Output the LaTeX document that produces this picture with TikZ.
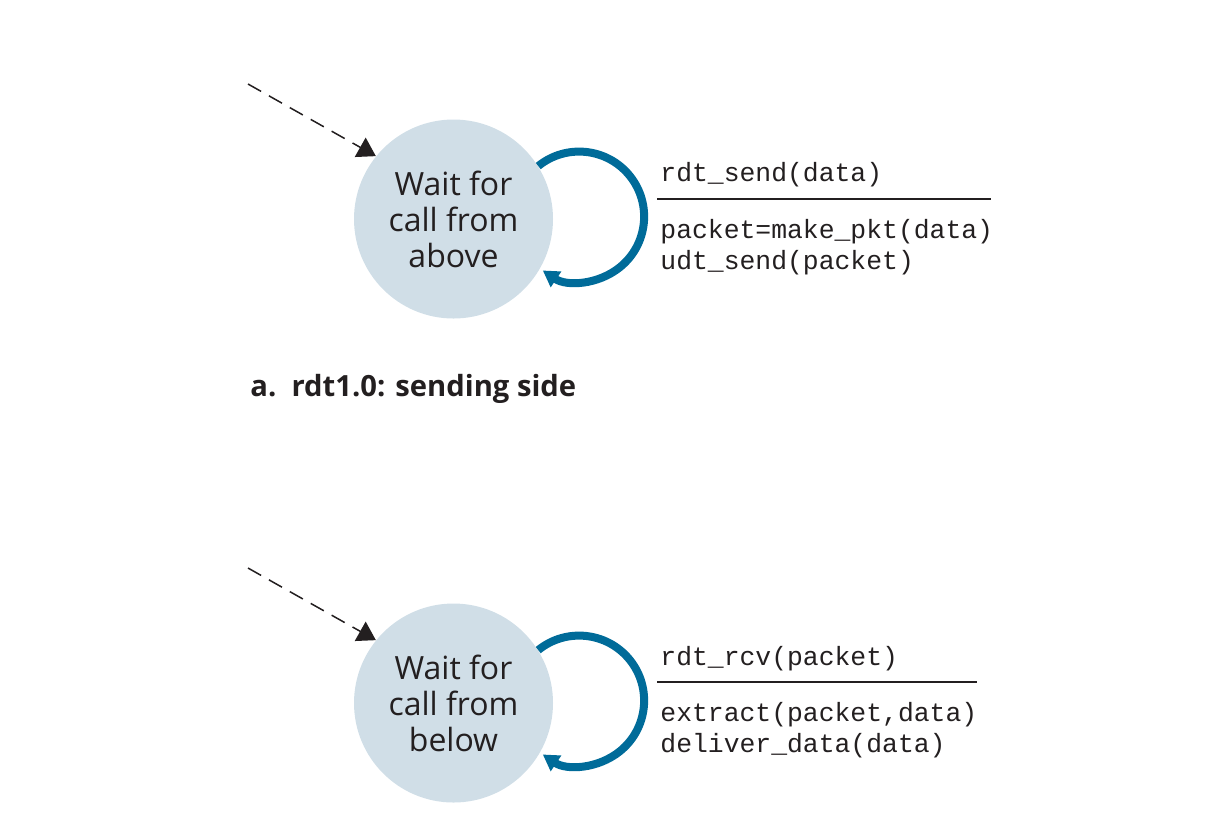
\documentclass[tikz,border=0pt]{standalone}
\usepackage{fontspec}
\setmainfont{Open Sans}
\setmonofont{Liberation Mono}
\usetikzlibrary{arrows.meta}
\definecolor{statefill}{HTML}{D0DEE7}
\definecolor{loopblue}{HTML}{006B99}
\definecolor{ink}{HTML}{231F20}
\begin{document}
\begin{tikzpicture}[x=0.5pt,y=-0.5pt,
  state/.style={circle,fill=statefill,minimum size=99.5pt,inner sep=0pt,
    align=center,text=ink,font=\fontsize{16}{18}\selectfont},
  init/.style={draw=ink,line width=0.75pt,dash pattern=on 7.5pt off 4.5pt,
    -{Triangle[length=9pt,width=11pt]},fill=none},
  selfloop/.style={draw=loopblue,line width=4pt,
    -{Triangle[length=8pt,width=9pt,fill=loopblue]}},
  code/.style={anchor=base west,inner sep=0pt,text=ink,
    font=\fontsize{13.2}{15.5}\ttfamily},
  rule/.style={draw=ink,line width=0.75pt},
  caption/.style={anchor=base west,inner sep=0pt,text=ink,
    font=\fontsize{14.6}{17}\selectfont\bfseries}]
\useasboundingbox (0,0) rectangle (1218,832);
% ---------- sending side ----------
\node[state] (s1) at (453.5,219) {Wait for\\call from\\above};
\coordinate (i1) at (248,84);
\draw[init] (i1) -- (s1.141);
\draw[selfloop] (s1.32) arc[start angle=-129,end angle=124,radius=65];
\node[code] (e1) at (660,181) {rdt\_send(data)};
\draw[rule] (657,199) -- (991,199);
\node[code] (a1) at (660,238) {packet=make\_pkt(data)};
\node[code] (a1b) at (660,269) {udt\_send(packet)};
\node[caption] (c1) at (250,396) {a.\ \ rdt1.0: sending side};
% ---------- receiving side ----------
\node[state] (s2) at (453.5,703) {Wait for\\call from\\below};
\coordinate (i2) at (248,568);
\draw[init] (i2) -- (s2.141);
\draw[selfloop] (s2.32) arc[start angle=-129,end angle=124,radius=65];
\node[code] (e2) at (660,665) {rdt\_rcv(packet)};
\draw[rule] (657,682) -- (977,682);
\node[code] (a2) at (660,721) {extract(packet,data)};
\node[code] (a2b) at (660,752) {deliver\_data(data)};
\end{tikzpicture}
\end{document}
